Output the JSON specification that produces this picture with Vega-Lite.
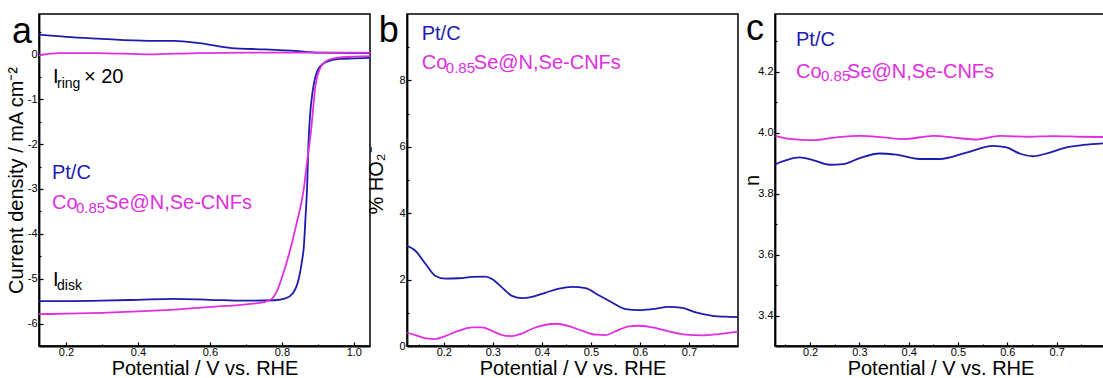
{
  "$schema": "https://vega.github.io/schema/vega-lite/v6.json",
  "background": "white",
  "autosize": {"type": "pad"},
  "padding": {"left": 5, "top": 10, "right": 0, "bottom": 0},
  "bounds": "flush",
  "spacing": 37,
  "config": {
    "font": "Liberation Sans",
    "view": {"stroke": "black", "strokeWidth": 1.5},
    "axis": {
      "grid": false, "domainColor": "black", "domainWidth": 1.8, "tickColor": "black", "tickWidth": 1.2,
      "labelColor": "black", "labelFont": "Liberation Sans", "labelFontSize": 11, "labelOverlap": false, "labelFlush": false,
      "titleFont": "Liberation Sans", "titleFontSize": 20, "titleFontWeight": "normal", "titleColor": "black"
    },
    "text": {"font": "Liberation Sans", "align": "left", "baseline": "alphabetic"}
  },
  "datasets": {
    "one": [{}],
    "a": [
      {"v": 0.125, "j": -5.50, "s": "Pt/C", "c": "disk"},
      {"v": 0.2, "j": -5.50, "s": "Pt/C", "c": "disk"},
      {"v": 0.3, "j": -5.49, "s": "Pt/C", "c": "disk"},
      {"v": 0.4, "j": -5.47, "s": "Pt/C", "c": "disk"},
      {"v": 0.5, "j": -5.45, "s": "Pt/C", "c": "disk"},
      {"v": 0.6, "j": -5.47, "s": "Pt/C", "c": "disk"},
      {"v": 0.7, "j": -5.49, "s": "Pt/C", "c": "disk"},
      {"v": 0.78, "j": -5.48, "s": "Pt/C", "c": "disk"},
      {"v": 0.81, "j": -5.44, "s": "Pt/C", "c": "disk"},
      {"v": 0.83, "j": -5.33, "s": "Pt/C", "c": "disk"},
      {"v": 0.847, "j": -5.0, "s": "Pt/C", "c": "disk"},
      {"v": 0.856, "j": -4.6, "s": "Pt/C", "c": "disk"},
      {"v": 0.861, "j": -4.3, "s": "Pt/C", "c": "disk"},
      {"v": 0.866, "j": -3.6, "s": "Pt/C", "c": "disk"},
      {"v": 0.87, "j": -3.0, "s": "Pt/C", "c": "disk"},
      {"v": 0.874, "j": -2.0, "s": "Pt/C", "c": "disk"},
      {"v": 0.878, "j": -1.4, "s": "Pt/C", "c": "disk"},
      {"v": 0.886, "j": -0.8, "s": "Pt/C", "c": "disk"},
      {"v": 0.895, "j": -0.45, "s": "Pt/C", "c": "disk"},
      {"v": 0.905, "j": -0.28, "s": "Pt/C", "c": "disk"},
      {"v": 0.925, "j": -0.16, "s": "Pt/C", "c": "disk"},
      {"v": 0.96, "j": -0.1, "s": "Pt/C", "c": "disk"},
      {"v": 1.0, "j": -0.09, "s": "Pt/C", "c": "disk"},
      {"v": 1.045, "j": -0.08, "s": "Pt/C", "c": "disk"},
      {"v": 0.125, "j": -5.79, "s": "Co0.85Se@N,Se-CNFs", "c": "disk"},
      {"v": 0.2, "j": -5.78, "s": "Co0.85Se@N,Se-CNFs", "c": "disk"},
      {"v": 0.3, "j": -5.76, "s": "Co0.85Se@N,Se-CNFs", "c": "disk"},
      {"v": 0.4, "j": -5.73, "s": "Co0.85Se@N,Se-CNFs", "c": "disk"},
      {"v": 0.5, "j": -5.69, "s": "Co0.85Se@N,Se-CNFs", "c": "disk"},
      {"v": 0.6, "j": -5.63, "s": "Co0.85Se@N,Se-CNFs", "c": "disk"},
      {"v": 0.7, "j": -5.57, "s": "Co0.85Se@N,Se-CNFs", "c": "disk"},
      {"v": 0.75, "j": -5.52, "s": "Co0.85Se@N,Se-CNFs", "c": "disk"},
      {"v": 0.772, "j": -5.45, "s": "Co0.85Se@N,Se-CNFs", "c": "disk"},
      {"v": 0.785, "j": -5.3, "s": "Co0.85Se@N,Se-CNFs", "c": "disk"},
      {"v": 0.8, "j": -4.98, "s": "Co0.85Se@N,Se-CNFs", "c": "disk"},
      {"v": 0.82, "j": -4.45, "s": "Co0.85Se@N,Se-CNFs", "c": "disk"},
      {"v": 0.84, "j": -3.8, "s": "Co0.85Se@N,Se-CNFs", "c": "disk"},
      {"v": 0.861, "j": -3.0, "s": "Co0.85Se@N,Se-CNFs", "c": "disk"},
      {"v": 0.87, "j": -2.4, "s": "Co0.85Se@N,Se-CNFs", "c": "disk"},
      {"v": 0.88, "j": -1.78, "s": "Co0.85Se@N,Se-CNFs", "c": "disk"},
      {"v": 0.894, "j": -0.67, "s": "Co0.85Se@N,Se-CNFs", "c": "disk"},
      {"v": 0.907, "j": -0.3, "s": "Co0.85Se@N,Se-CNFs", "c": "disk"},
      {"v": 0.93, "j": -0.12, "s": "Co0.85Se@N,Se-CNFs", "c": "disk"},
      {"v": 0.96, "j": -0.07, "s": "Co0.85Se@N,Se-CNFs", "c": "disk"},
      {"v": 1.0, "j": -0.05, "s": "Co0.85Se@N,Se-CNFs", "c": "disk"},
      {"v": 1.045, "j": -0.04, "s": "Co0.85Se@N,Se-CNFs", "c": "disk"},
      {"v": 0.125, "j": 0.44, "s": "Pt/C", "c": "ring"},
      {"v": 0.2, "j": 0.39, "s": "Pt/C", "c": "ring"},
      {"v": 0.29, "j": 0.35, "s": "Pt/C", "c": "ring"},
      {"v": 0.43, "j": 0.30, "s": "Pt/C", "c": "ring"},
      {"v": 0.5, "j": 0.30, "s": "Pt/C", "c": "ring"},
      {"v": 0.57, "j": 0.25, "s": "Pt/C", "c": "ring"},
      {"v": 0.66, "j": 0.14, "s": "Pt/C", "c": "ring"},
      {"v": 0.755, "j": 0.11, "s": "Pt/C", "c": "ring"},
      {"v": 0.847, "j": 0.07, "s": "Pt/C", "c": "ring"},
      {"v": 0.9, "j": 0.04, "s": "Pt/C", "c": "ring"},
      {"v": 1.045, "j": 0.03, "s": "Pt/C", "c": "ring"},
      {"v": 0.125, "j": -0.02, "s": "Co0.85Se@N,Se-CNFs", "c": "ring"},
      {"v": 0.18, "j": 0.03, "s": "Co0.85Se@N,Se-CNFs", "c": "ring"},
      {"v": 0.29, "j": 0.03, "s": "Co0.85Se@N,Se-CNFs", "c": "ring"},
      {"v": 0.43, "j": 0.0, "s": "Co0.85Se@N,Se-CNFs", "c": "ring"},
      {"v": 0.57, "j": 0.03, "s": "Co0.85Se@N,Se-CNFs", "c": "ring"},
      {"v": 0.755, "j": 0.04, "s": "Co0.85Se@N,Se-CNFs", "c": "ring"},
      {"v": 0.94, "j": 0.04, "s": "Co0.85Se@N,Se-CNFs", "c": "ring"},
      {"v": 1.045, "j": 0.04, "s": "Co0.85Se@N,Se-CNFs", "c": "ring"}
    ],
    "b": [
      {"v": 0.125, "p": 3.02, "s": "Pt/C"},
      {"v": 0.142, "p": 2.87, "s": "Pt/C"},
      {"v": 0.163, "p": 2.47, "s": "Pt/C"},
      {"v": 0.183, "p": 2.11, "s": "Pt/C"},
      {"v": 0.203, "p": 2.03, "s": "Pt/C"},
      {"v": 0.231, "p": 2.04, "s": "Pt/C"},
      {"v": 0.258, "p": 2.08, "s": "Pt/C"},
      {"v": 0.285, "p": 2.09, "s": "Pt/C"},
      {"v": 0.299, "p": 2.01, "s": "Pt/C"},
      {"v": 0.319, "p": 1.76, "s": "Pt/C"},
      {"v": 0.339, "p": 1.51, "s": "Pt/C"},
      {"v": 0.36, "p": 1.44, "s": "Pt/C"},
      {"v": 0.38, "p": 1.48, "s": "Pt/C"},
      {"v": 0.408, "p": 1.61, "s": "Pt/C"},
      {"v": 0.435, "p": 1.73, "s": "Pt/C"},
      {"v": 0.462, "p": 1.78, "s": "Pt/C"},
      {"v": 0.489, "p": 1.74, "s": "Pt/C"},
      {"v": 0.516, "p": 1.53, "s": "Pt/C"},
      {"v": 0.543, "p": 1.31, "s": "Pt/C"},
      {"v": 0.571, "p": 1.11, "s": "Pt/C"},
      {"v": 0.598, "p": 1.08, "s": "Pt/C"},
      {"v": 0.625, "p": 1.11, "s": "Pt/C"},
      {"v": 0.659, "p": 1.18, "s": "Pt/C"},
      {"v": 0.686, "p": 1.15, "s": "Pt/C"},
      {"v": 0.714, "p": 1.01, "s": "Pt/C"},
      {"v": 0.748, "p": 0.91, "s": "Pt/C"},
      {"v": 0.782, "p": 0.88, "s": "Pt/C"},
      {"v": 0.8, "p": 0.87, "s": "Pt/C"},
      {"v": 0.125, "p": 0.40, "s": "Co0.85Se@N,Se-CNFs"},
      {"v": 0.142, "p": 0.33, "s": "Co0.85Se@N,Se-CNFs"},
      {"v": 0.163, "p": 0.23, "s": "Co0.85Se@N,Se-CNFs"},
      {"v": 0.183, "p": 0.21, "s": "Co0.85Se@N,Se-CNFs"},
      {"v": 0.203, "p": 0.30, "s": "Co0.85Se@N,Se-CNFs"},
      {"v": 0.231, "p": 0.46, "s": "Co0.85Se@N,Se-CNFs"},
      {"v": 0.258, "p": 0.56, "s": "Co0.85Se@N,Se-CNFs"},
      {"v": 0.278, "p": 0.56, "s": "Co0.85Se@N,Se-CNFs"},
      {"v": 0.299, "p": 0.45, "s": "Co0.85Se@N,Se-CNFs"},
      {"v": 0.319, "p": 0.33, "s": "Co0.85Se@N,Se-CNFs"},
      {"v": 0.339, "p": 0.30, "s": "Co0.85Se@N,Se-CNFs"},
      {"v": 0.36, "p": 0.38, "s": "Co0.85Se@N,Se-CNFs"},
      {"v": 0.38, "p": 0.52, "s": "Co0.85Se@N,Se-CNFs"},
      {"v": 0.408, "p": 0.64, "s": "Co0.85Se@N,Se-CNFs"},
      {"v": 0.428, "p": 0.67, "s": "Co0.85Se@N,Se-CNFs"},
      {"v": 0.455, "p": 0.60, "s": "Co0.85Se@N,Se-CNFs"},
      {"v": 0.482, "p": 0.46, "s": "Co0.85Se@N,Se-CNFs"},
      {"v": 0.51, "p": 0.34, "s": "Co0.85Se@N,Se-CNFs"},
      {"v": 0.53, "p": 0.33, "s": "Co0.85Se@N,Se-CNFs"},
      {"v": 0.551, "p": 0.45, "s": "Co0.85Se@N,Se-CNFs"},
      {"v": 0.578, "p": 0.59, "s": "Co0.85Se@N,Se-CNFs"},
      {"v": 0.598, "p": 0.61, "s": "Co0.85Se@N,Se-CNFs"},
      {"v": 0.625, "p": 0.56, "s": "Co0.85Se@N,Se-CNFs"},
      {"v": 0.659, "p": 0.44, "s": "Co0.85Se@N,Se-CNFs"},
      {"v": 0.693, "p": 0.34, "s": "Co0.85Se@N,Se-CNFs"},
      {"v": 0.727, "p": 0.32, "s": "Co0.85Se@N,Se-CNFs"},
      {"v": 0.761, "p": 0.36, "s": "Co0.85Se@N,Se-CNFs"},
      {"v": 0.8, "p": 0.43, "s": "Co0.85Se@N,Se-CNFs"}
    ],
    "c": [
      {"v": 0.13, "n": 3.897, "s": "Pt/C"},
      {"v": 0.152, "n": 3.91, "s": "Pt/C"},
      {"v": 0.179, "n": 3.919, "s": "Pt/C"},
      {"v": 0.206, "n": 3.91, "s": "Pt/C"},
      {"v": 0.24, "n": 3.895, "s": "Pt/C"},
      {"v": 0.267, "n": 3.897, "s": "Pt/C"},
      {"v": 0.301, "n": 3.917, "s": "Pt/C"},
      {"v": 0.341, "n": 3.932, "s": "Pt/C"},
      {"v": 0.375, "n": 3.928, "s": "Pt/C"},
      {"v": 0.422, "n": 3.914, "s": "Pt/C"},
      {"v": 0.463, "n": 3.914, "s": "Pt/C"},
      {"v": 0.517, "n": 3.935, "s": "Pt/C"},
      {"v": 0.571, "n": 3.957, "s": "Pt/C"},
      {"v": 0.598, "n": 3.952, "s": "Pt/C"},
      {"v": 0.625, "n": 3.932, "s": "Pt/C"},
      {"v": 0.652, "n": 3.923, "s": "Pt/C"},
      {"v": 0.686, "n": 3.935, "s": "Pt/C"},
      {"v": 0.72, "n": 3.952, "s": "Pt/C"},
      {"v": 0.754, "n": 3.96, "s": "Pt/C"},
      {"v": 0.8, "n": 3.966, "s": "Pt/C"},
      {"v": 0.13, "n": 3.99, "s": "Co0.85Se@N,Se-CNFs"},
      {"v": 0.159, "n": 3.98, "s": "Co0.85Se@N,Se-CNFs"},
      {"v": 0.206, "n": 3.976, "s": "Co0.85Se@N,Se-CNFs"},
      {"v": 0.253, "n": 3.985, "s": "Co0.85Se@N,Se-CNFs"},
      {"v": 0.301, "n": 3.99, "s": "Co0.85Se@N,Se-CNFs"},
      {"v": 0.348, "n": 3.985, "s": "Co0.85Se@N,Se-CNFs"},
      {"v": 0.389, "n": 3.979, "s": "Co0.85Se@N,Se-CNFs"},
      {"v": 0.45, "n": 3.99, "s": "Co0.85Se@N,Se-CNFs"},
      {"v": 0.504, "n": 3.982, "s": "Co0.85Se@N,Se-CNFs"},
      {"v": 0.537, "n": 3.978, "s": "Co0.85Se@N,Se-CNFs"},
      {"v": 0.585, "n": 3.99, "s": "Co0.85Se@N,Se-CNFs"},
      {"v": 0.639, "n": 3.987, "s": "Co0.85Se@N,Se-CNFs"},
      {"v": 0.693, "n": 3.989, "s": "Co0.85Se@N,Se-CNFs"},
      {"v": 0.747, "n": 3.987, "s": "Co0.85Se@N,Se-CNFs"},
      {"v": 0.8, "n": 3.986, "s": "Co0.85Se@N,Se-CNFs"}
    ]
  },
  "hconcat": [
    {
      "width": 331, "height": 332,
      "encoding": {
        "x": {"type": "quantitative", "scale": {"domain": [0.125, 1.045], "nice": false, "zero": false},
          "axis": {"title": "Potential / V vs. RHE", "values": [0.2, 0.3, 0.4, 0.5, 0.6, 0.7, 0.8, 0.9, 1.0],
            "labelExpr": "indexof([0.2, 0.4, 0.6, 0.8, 1], datum.value) >= 0 ? format(datum.value, '.1f') : ''",
            "tickSize": {"condition": {"test": "indexof([0.2, 0.4, 0.6, 0.8, 1], datum.value) >= 0", "value": -4}, "value": -2},
            "labelPadding": 4, "titlePadding": -1}},
        "y": {"type": "quantitative", "scale": {"domain": [-6.5, 0.9], "nice": false, "zero": false},
          "axis": {"title": "Current density / mA cm⁻²", "values": [-6.5, -6, -5.5, -5, -4.5, -4, -3.5, -3, -2.5, -2, -1.5, -1, -0.5, 0, 0.5],
            "labelExpr": "datum.value % 1 == 0 ? '' + datum.value : ''",
            "tickSize": {"condition": {"test": "datum.value % 1 == 0", "value": -4}, "value": -2},
            "labelPadding": 6, "titlePadding": 1}}
      },
      "layer": [
        {"data": {"name": "a"}, "mark": {"type": "line", "strokeWidth": 1.8, "interpolate": "monotone"},
          "encoding": {"x": {"field": "v"}, "y": {"field": "j"},
            "color": {"field": "s", "type": "nominal", "scale": {"domain": ["Pt/C", "Co0.85Se@N,Se-CNFs"], "range": ["#1c1cae", "#e02ee0"]}, "legend": null},
            "detail": {"field": "c"}}},
        {"data": {"name": "one"}, "mark": {"type": "text", "text": "a", "fontSize": 36, "color": "black"}, "encoding": {"x": {"datum": 0.05}, "y": {"datum": 0.244}}},
        {"data": {"name": "one"}, "mark": {"type": "text", "text": "I", "fontSize": 20, "color": "black"}, "encoding": {"x": {"datum": 0.164}, "y": {"datum": -0.644}}},
        {"data": {"name": "one"}, "mark": {"type": "text", "text": "ring", "fontSize": 14, "color": "black"}, "encoding": {"x": {"datum": 0.175}, "y": {"datum": -0.756}}},
        {"data": {"name": "one"}, "mark": {"type": "text", "text": "× 20", "fontSize": 20, "color": "black"}, "encoding": {"x": {"datum": 0.25}, "y": {"datum": -0.644}}},
        {"data": {"name": "one"}, "mark": {"type": "text", "text": "I", "fontSize": 20, "color": "black"}, "encoding": {"x": {"datum": 0.164}, "y": {"datum": -5.156}}},
        {"data": {"name": "one"}, "mark": {"type": "text", "text": "disk", "fontSize": 14, "color": "black"}, "encoding": {"x": {"datum": 0.175}, "y": {"datum": -5.244}}},
        {"data": {"name": "one"}, "mark": {"type": "text", "text": "Pt/C", "fontSize": 20, "color": "#1c1cae"}, "encoding": {"x": {"datum": 0.161}, "y": {"datum": -2.778}}},
        {"data": {"name": "one"}, "mark": {"type": "text", "text": "Co", "fontSize": 20, "color": "#e02ee0"}, "encoding": {"x": {"datum": 0.161}, "y": {"datum": -3.444}}},
        {"data": {"name": "one"}, "mark": {"type": "text", "text": "0.85", "fontSize": 15, "color": "#e02ee0"}, "encoding": {"x": {"datum": 0.2278}, "y": {"datum": -3.533}}},
        {"data": {"name": "one"}, "mark": {"type": "text", "text": "Se@N,Se-CNFs", "fontSize": 20, "color": "#e02ee0"}, "encoding": {"x": {"datum": 0.3083}, "y": {"datum": -3.444}}}
      ]
    },
    {
      "width": 331, "height": 332,
      "encoding": {
        "x": {"type": "quantitative", "scale": {"domain": [0.125, 0.8], "nice": false, "zero": false},
          "axis": {"title": "Potential / V vs. RHE", "values": [0.15, 0.2, 0.25, 0.3, 0.35, 0.4, 0.45, 0.5, 0.55, 0.6, 0.65, 0.7, 0.75],
            "labelExpr": "indexof([0.2, 0.3, 0.4, 0.5, 0.6, 0.7], datum.value) >= 0 ? format(datum.value, '.1f') : ''",
            "tickSize": {"condition": {"test": "indexof([0.2, 0.3, 0.4, 0.5, 0.6, 0.7], datum.value) >= 0", "value": -4}, "value": -2},
            "labelPadding": 4, "titlePadding": -1}},
        "y": {"type": "quantitative", "scale": {"domain": [0, 10], "nice": false, "zero": false},
          "axis": {"title": "% HO₂⁻", "values": [0, 1, 2, 3, 4, 5, 6, 7, 8, 9],
            "labelExpr": "datum.value % 2 == 0 ? '' + datum.value : ''",
            "tickSize": {"condition": {"test": "datum.value % 2 == 0", "value": -4}, "value": -2},
            "labelPadding": 6, "titlePadding": 12}}
      },
      "layer": [
        {"data": {"name": "b"}, "mark": {"type": "line", "strokeWidth": 1.8, "interpolate": "monotone"},
          "encoding": {"x": {"field": "v"}, "y": {"field": "p"},
            "color": {"field": "s", "type": "nominal", "scale": {"domain": ["Pt/C", "Co0.85Se@N,Se-CNFs"], "range": ["#1c1cae", "#e02ee0"]}, "legend": null}}},
        {"data": {"name": "one"}, "mark": {"type": "text", "text": "b", "fontSize": 36, "color": "black"}, "encoding": {"x": {"datum": 0.0673}, "y": {"datum": 9.15}}},
        {"data": {"name": "one"}, "mark": {"type": "text", "text": "Pt/C", "fontSize": 20, "color": "#1c1cae"}, "encoding": {"x": {"datum": 0.155}, "y": {"datum": 9.215}}},
        {"data": {"name": "one"}, "mark": {"type": "text", "text": "Co", "fontSize": 20, "color": "#e02ee0"}, "encoding": {"x": {"datum": 0.155}, "y": {"datum": 8.338}}},
        {"data": {"name": "one"}, "mark": {"type": "text", "text": "0.85", "fontSize": 15, "color": "#e02ee0"}, "encoding": {"x": {"datum": 0.2041}, "y": {"datum": 8.218}}},
        {"data": {"name": "one"}, "mark": {"type": "text", "text": "Se@N,Se-CNFs", "fontSize": 20, "color": "#e02ee0"}, "encoding": {"x": {"datum": 0.2613}, "y": {"datum": 8.338}}}
      ]
    },
    {
      "width": 331, "height": 332,
      "encoding": {
        "x": {"type": "quantitative", "scale": {"domain": [0.129, 0.8], "nice": false, "zero": false},
          "axis": {"title": "Potential / V vs. RHE", "values": [0.15, 0.2, 0.25, 0.3, 0.35, 0.4, 0.45, 0.5, 0.55, 0.6, 0.65, 0.7, 0.75],
            "labelExpr": "indexof([0.2, 0.3, 0.4, 0.5, 0.6, 0.7], datum.value) >= 0 ? format(datum.value, '.1f') : ''",
            "tickSize": {"condition": {"test": "indexof([0.2, 0.3, 0.4, 0.5, 0.6, 0.7], datum.value) >= 0", "value": -4}, "value": -2},
            "labelPadding": 4, "titlePadding": -1}},
        "y": {"type": "quantitative", "scale": {"domain": [3.3, 4.39], "nice": false, "zero": false},
          "axis": {"title": "n", "values": [3.4, 3.5, 3.6, 3.7, 3.8, 3.9, 4.0, 4.1, 4.2, 4.3],
            "labelExpr": "indexof([3.4, 3.6, 3.8, 4, 4.2], datum.value) >= 0 ? format(datum.value, '.1f') : ''",
            "tickSize": {"condition": {"test": "indexof([3.4, 3.6, 3.8, 4, 4.2], datum.value) >= 0", "value": -4}, "value": -2},
            "labelPadding": 6, "titlePadding": -5}}
      },
      "layer": [
        {"data": {"name": "c"}, "mark": {"type": "line", "strokeWidth": 1.8, "interpolate": "monotone", "clip": true},
          "encoding": {"x": {"field": "v"}, "y": {"field": "n"},
            "color": {"field": "s", "type": "nominal", "scale": {"domain": ["Pt/C", "Co0.85Se@N,Se-CNFs"], "range": ["#1c1cae", "#e02ee0"]}, "legend": null}}},
        {"data": {"name": "one"}, "mark": {"type": "text", "text": "c", "fontSize": 36, "color": "black"}, "encoding": {"x": {"datum": 0.0702}, "y": {"datum": 4.303}}},
        {"data": {"name": "one"}, "mark": {"type": "text", "text": "Pt/C", "fontSize": 20, "color": "#1c1cae"}, "encoding": {"x": {"datum": 0.1716}, "y": {"datum": 4.286}}},
        {"data": {"name": "one"}, "mark": {"type": "text", "text": "Co", "fontSize": 20, "color": "#e02ee0"}, "encoding": {"x": {"datum": 0.1716}, "y": {"datum": 4.181}}},
        {"data": {"name": "one"}, "mark": {"type": "text", "text": "0.85", "fontSize": 15, "color": "#e02ee0"}, "encoding": {"x": {"datum": 0.2223}, "y": {"datum": 4.171}}},
        {"data": {"name": "one"}, "mark": {"type": "text", "text": "Se@N,Se-CNFs", "fontSize": 20, "color": "#e02ee0"}, "encoding": {"x": {"datum": 0.2751}, "y": {"datum": 4.181}}}
      ]
    }
  ]
}
